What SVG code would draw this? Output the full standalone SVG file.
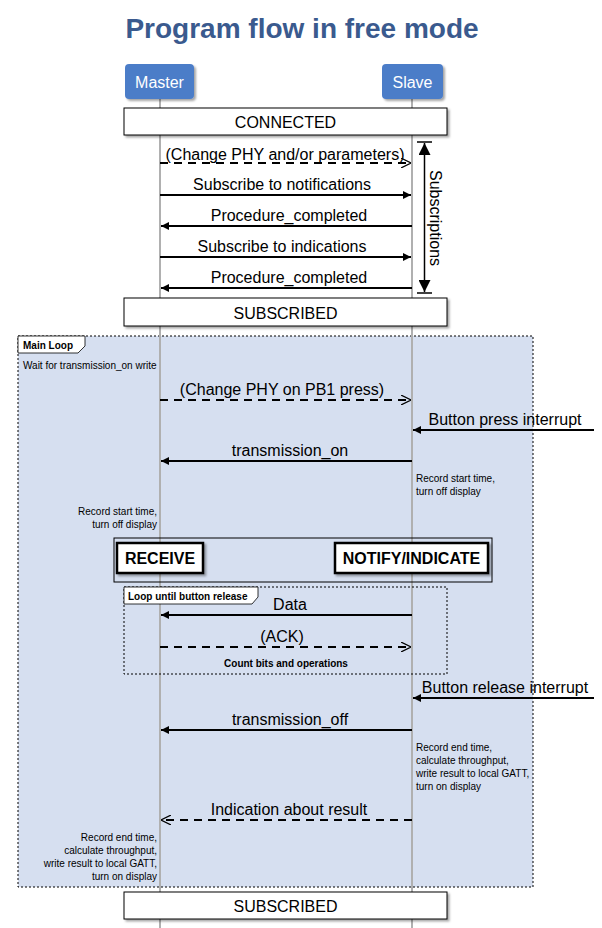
<svg xmlns="http://www.w3.org/2000/svg" width="602" height="928" viewBox="0 0 602 928">
<style>
text{font-family:"Liberation Sans",Arial,sans-serif;fill:#000}
.t{font-size:28px;font-weight:bold;fill:#3a5a8e;text-anchor:middle}
.msg{font-size:16px;text-anchor:middle}
.sm{font-size:10px}
.smr{font-size:10px;text-anchor:end}
.tab{font-size:10px;font-weight:bold}
.life{stroke:#b0b0b0;stroke-width:2}
.sol{stroke:#000;stroke-width:2;fill:none}
.dsh{stroke:#000;stroke-width:1.8;fill:none;stroke-dasharray:8,6}
.state{fill:#fff;stroke:#000;stroke-width:1;filter:url(#sh)}
.act{fill:#4c7dc8;filter:url(#sh)}
.acttx{font-size:16px;fill:#fff;text-anchor:middle}
.frame{stroke:#000;stroke-width:1;stroke-dasharray:2,2}
</style>
<defs>
<filter id="sh" x="-10%" y="-20%" width="130%" height="150%">
<feDropShadow dx="2" dy="2" stdDeviation="1.2" flood-color="#000" flood-opacity="0.35"/>
</filter>
<marker id="fa" viewBox="0 0 10 10" refX="10" refY="5" markerWidth="8" markerHeight="8" markerUnits="userSpaceOnUse" orient="auto">
<path d="M0,0 L10,5 L0,10 z" fill="#000"/>
</marker>
<marker id="fb" viewBox="0 0 12 12" refX="12" refY="6" markerWidth="12" markerHeight="12" markerUnits="userSpaceOnUse" orient="auto-start-reverse">
<path d="M0,0 L12,6 L0,12 z" fill="#000"/>
</marker>
<marker id="oa" viewBox="0 0 10 10" refX="10" refY="5" markerWidth="10" markerHeight="10" markerUnits="userSpaceOnUse" orient="auto">
<path d="M0,0 L10,5 L0,10" fill="none" stroke="#000" stroke-width="1.2"/>
</marker>
</defs>
<rect width="602" height="928" fill="#fff"/>
<text class="t" x="302" y="38">Program flow in free mode</text>

<g id="main-loop">
<rect x="18" y="336" width="515" height="551" fill="#d6dff0" class="frame"/>
<path d="M18,336 H85 V346 L78,353 H18 Z" fill="#fff" stroke="#000" stroke-width="0.8"/>
<text class="tab" x="23" y="349">Main Loop</text>
<text class="sm" x="23" y="369">Wait for transmission_on write</text>
</g>

<g id="lifelines">
<line class="life" x1="160" y1="99" x2="160" y2="928"/>
<line class="life" x1="412" y1="99" x2="412" y2="928"/>
</g>

<g id="master">
<rect class="act" x="125" y="64" width="69" height="35" rx="4"/>
<text class="acttx" x="159.5" y="88">Master</text>
</g>
<g id="slave">
<rect class="act" x="382" y="64" width="61" height="35" rx="4"/>
<text class="acttx" x="412.5" y="88">Slave</text>
</g>

<g id="connected">
<rect class="state" x="124" y="108" width="323" height="27"/>
<text class="msg" x="285.5" y="128">CONNECTED</text>
</g>

<g id="subscribed1">
<rect class="state" x="124" y="298" width="323" height="28"/>
<text class="msg" x="285.5" y="319">SUBSCRIBED</text>
</g>

<g id="subscriptions">
<line x1="417" y1="142" x2="432" y2="142" stroke="#000" stroke-width="1.5"/>
<line x1="417" y1="293" x2="432" y2="293" stroke="#000" stroke-width="1.5"/>
<line x1="424.5" y1="143" x2="424.5" y2="292" stroke="#000" stroke-width="1.5" marker-start="url(#fb)" marker-end="url(#fb)"/>
<text class="msg" transform="translate(430,218) rotate(90)">Subscriptions</text>
</g>

<g id="par">
<rect x="114" y="538" width="378" height="44" fill="none" stroke="#000" stroke-width="1"/>
</g>
<g id="receive">
<rect x="117" y="543" width="86" height="30" fill="#fff" stroke="#000" stroke-width="2.5" filter="url(#sh)"/>
<text x="160" y="564" font-size="16" font-weight="bold" text-anchor="middle">RECEIVE</text>
</g>
<g id="notify">
<rect x="335" y="543" width="153" height="30" fill="#fff" stroke="#000" stroke-width="2.5" filter="url(#sh)"/>
<text x="411.5" y="564" font-size="16" font-weight="bold" text-anchor="middle">NOTIFY/INDICATE</text>
</g>

<g id="loop-button">
<rect x="124" y="587" width="323" height="87" fill="none" class="frame"/>
<path d="M124,587 H258 V597 L252,604 H124 Z" fill="#fff" stroke="#000" stroke-width="0.8"/>
<text class="tab" x="128" y="600">Loop until button release</text>
<text class="tab" x="286" y="667" text-anchor="middle">Count bits and operations</text>
</g>

<g id="subscribed2">
<rect class="state" x="124" y="892" width="323" height="27"/>
<text class="msg" x="285.5" y="912">SUBSCRIBED</text>
</g>

<g id="connectors">
<line class="dsh" x1="160" y1="163" x2="411" y2="163" marker-end="url(#oa)"/>
<line class="sol" x1="160" y1="195" x2="411" y2="195" marker-end="url(#fa)"/>
<line class="sol" x1="412" y1="226" x2="161" y2="226" marker-end="url(#fa)"/>
<line class="sol" x1="160" y1="257" x2="411" y2="257" marker-end="url(#fa)"/>
<line class="sol" x1="412" y1="288" x2="161" y2="288" marker-end="url(#fa)"/>
<line class="dsh" x1="160" y1="400" x2="411" y2="400" marker-end="url(#oa)"/>
<line class="sol" x1="594" y1="430" x2="413" y2="430" marker-end="url(#fa)"/>
<line class="sol" x1="412" y1="461" x2="161" y2="461" marker-end="url(#fa)"/>
<line class="sol" x1="412" y1="615" x2="161" y2="615" marker-end="url(#fa)"/>
<line class="dsh" x1="160" y1="647" x2="411" y2="647" marker-end="url(#oa)"/>
<line class="sol" x1="594" y1="698" x2="413" y2="698" marker-end="url(#fa)"/>
<line class="sol" x1="412" y1="730" x2="161" y2="730" marker-end="url(#fa)"/>
<line class="dsh" x1="412" y1="820" x2="161" y2="820" marker-end="url(#oa)"/>
</g>

<g id="labels">
<text class="msg" x="285" y="160">(Change PHY and/or parameters)</text>
<text class="msg" x="282" y="190">Subscribe to notifications</text>
<text class="msg" x="289" y="221">Procedure_completed</text>
<text class="msg" x="282" y="252">Subscribe to indications</text>
<text class="msg" x="289" y="283">Procedure_completed</text>
<text class="msg" x="282" y="395">(Change PHY on PB1 press)</text>
<text class="msg" x="505" y="425">Button press interrupt</text>
<text class="msg" x="290" y="456">transmission_on</text>
<text class="sm" x="416" y="482">Record start time,</text>
<text class="sm" x="416" y="495">turn off display</text>
<text class="smr" x="157" y="515">Record start time,</text>
<text class="smr" x="157" y="528">turn off display</text>
<text class="msg" x="290" y="610">Data</text>
<text class="msg" x="282" y="642">(ACK)</text>
<text class="msg" x="505" y="693">Button release interrupt</text>
<text class="msg" x="290" y="725">transmission_off</text>
<text class="sm" x="416" y="751">Record end time,</text>
<text class="sm" x="416" y="764">calculate throughput,</text>
<text class="sm" x="416" y="777">write result to local GATT,</text>
<text class="sm" x="416" y="790">turn on display</text>
<text class="msg" x="289" y="815">Indication about result</text>
<text class="smr" x="157" y="841">Record end time,</text>
<text class="smr" x="157" y="854">calculate throughput,</text>
<text class="smr" x="157" y="867">write result to local GATT,</text>
<text class="smr" x="157" y="880">turn on display</text>
</g>
</svg>
